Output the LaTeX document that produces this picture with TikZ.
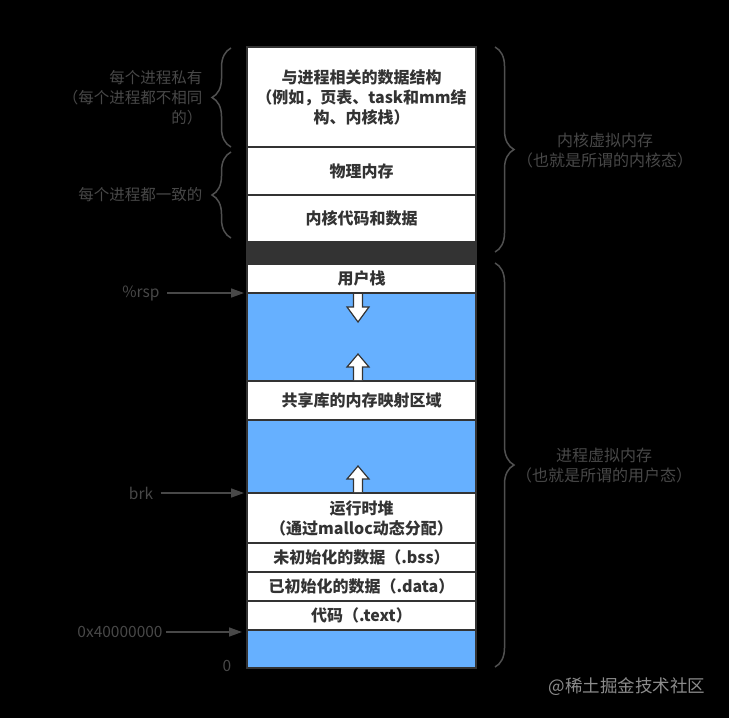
\documentclass[tikz,border=0pt]{standalone}
\usepackage{fontspec}
\setmainfont{Noto Sans CJK SC}
\usetikzlibrary{positioning, arrows.meta, decorations.pathreplacing, calc}

\definecolor{boxline}{HTML}{333333}
\definecolor{boxtext}{HTML}{333333}
\definecolor{freeblue}{HTML}{66B0FF}
\definecolor{lblgray}{HTML}{484848}
\definecolor{brcgray}{HTML}{505050}
\definecolor{wmgray}{HTML}{8C8C8C}

\tikzset{
  seg/.style={draw=boxline, line width=2pt, outer sep=0pt, inner sep=0pt,
    minimum width=229pt, fill=white, text=boxtext, align=center,
    font=\bfseries\fontsize{16}{20}\selectfont},
  free/.style={seg, fill=freeblue},
  lbl/.style={text=lblgray, font=\fontsize{15.5}{20}\selectfont},
  ptr/.style={draw=lblgray, line width=1.5pt, -{Triangle[length=13pt,width=9pt]}},
  brc/.style={draw=brcgray, line width=1.5pt, decorate,
    decoration={brace, amplitude=19pt, aspect=0.5}},
  blkarr/.style={fill=white, draw=boxline, line width=1.2pt, line join=miter},
  downarr/.pic={\draw[blkarr] (-4.5,1) -- (-4.5,14) -- (-11,14) -- (0,29) -- (11,14) -- (4.5,14) -- (4.5,1);},
  uparr/.pic={\draw[blkarr] (-4.5,-1) -- (-4.5,-14) -- (-11,-14) -- (0,-27) -- (11,-14) -- (4.5,-14) -- (4.5,-1);}
}

\begin{document}
\begin{tikzpicture}[x=1pt, y=-1pt]
  \fill[black] (0,0) rectangle (729,718);
  \useasboundingbox (0,0) rectangle (729,718);

  % kernel part
  \node[seg, minimum height=100pt] (pstruct) at (361.5,97) {与进程相关的数据结构\\（例如，页表、task和mm结\\构、内核栈）};
  \node[seg, minimum height=48pt, below=0pt of pstruct] (physmem) {物理内存};
  \node[seg, minimum height=47pt, below=0pt of physmem] (kcode) {内核代码和数据};
  \node[seg, minimum height=22pt, fill=boxline, below=0pt of kcode] (gap) {};

  % user part
  \node[seg, minimum height=29pt, below=0pt of gap] (usrstack) {用户栈};
  \node[free, minimum height=88pt, below=0pt of usrstack] (free1) {};
  \node[seg, minimum height=39pt, below=0pt of free1] (shlib) {共享库的内存映射区域};
  \node[free, minimum height=73pt, below=0pt of shlib] (free2) {};
  \node[seg, minimum height=50pt, below=0pt of free2] (heap) {运行时堆\\（通过malloc动态分配）};
  \node[seg, minimum height=29pt, below=0pt of heap] (bss) {未初始化的数据（.bss）};
  \node[seg, minimum height=29pt, below=0pt of bss] (data) {已初始化的数据（.data）};
  \node[seg, minimum height=29pt, below=0pt of data] (text) {代码（.text）};
  \node[free, minimum height=38pt, below=0pt of text] (free3) {};

  % growth arrows
  \pic at ($(usrstack.south)+(-3.5,0)$) {downarr};
  \pic at ($(shlib.north)+(-3.5,0)$) {uparr};
  \pic at ($(heap.north)+(-3.5,0)$) {uparr};

  % pointers on the left
  \node[lbl] (rsp) at (141,293) {\%rsp};
  \node[lbl] (brk) at (141,493) {brk};
  \node[lbl] (base) at (120,632) {0x40000000};
  \node[lbl] (zero) at (227,666) {0};
  \draw[ptr, shorten <=4pt, shorten >=3pt] (rsp.east) -- (rsp.east -| usrstack.west);
  \draw[ptr, shorten <=4pt, shorten >=3pt] (brk.east) -- (brk.east -| heap.west);
  \draw[ptr, shorten >=5pt] (base.east) -- (base.east -| free3.west);

  % braces
  \draw[brc] (231,147) -- (231,48);
  \draw[brc] (231,238) -- (231,152);
  \draw[brc] (495,47) -- (495,252);
  \draw[brc] (495,263) -- (495,667);

  \node[lbl, anchor=east, align=right] (priv) at (206,98) {每个进程私有\\（每个进程都不相同\\的）};
  \node[lbl, anchor=east] (same) at (206,195) {每个进程都一致的};
  \node[lbl, font=\fontsize{16}{20}\selectfont, align=center] (kvm) at (605,151) {内核虚拟内存\\（也就是所谓的内核态）};
  \node[lbl, font=\fontsize{16}{20}\selectfont, align=center] (uvm) at (604,466) {进程虚拟内存\\（也就是所谓的用户态）};

  \node[text=wmgray, font=\fontsize{17.5}{20}\selectfont] (wm) at (627,687) {@稀土掘金技术社区};
\end{tikzpicture}
\end{document}
